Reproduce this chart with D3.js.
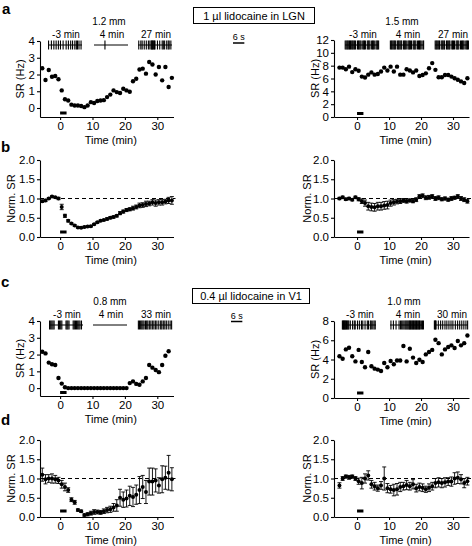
<!DOCTYPE html>
<html><head><meta charset="utf-8">
<script src="https://cdn.jsdelivr.net/npm/d3@7/dist/d3.min.js"></script>
<style>body{margin:0;background:#fff}svg text{font-family:"Liberation Sans",Arial,Helvetica,sans-serif;fill:#000}</style>
</head><body><svg id="chart" width="472" height="546"></svg>
<script>
// ---------- data ----------
const times41 = [-5.5,-4.5,-3.5,-2.5,-1.5,-0.5,0.5,1.5,2.5,3.5,4.5,5.5,6.5,7.5,8.5,9.5,10.5,11.5,12.5,13.5,14.5,15.5,16.5,17.5,18.5,19.5,20.5,21.5,22.5,23.5,24.5,25.5,26.5,27.5,28.5,29.5,30.5,31.5,32.5,33.5,34.5];
const times40 = [-5.5,-4.5,-3.5,-2.5,-1.5,-0.5,0.5,1.5,2.5,3.5,4.5,5.5,6.5,7.5,8.5,9.5,10.5,11.5,12.5,13.5,14.5,15.5,16.5,17.5,18.5,19.5,20.5,21.5,22.5,23.5,24.5,25.5,26.5,27.5,28.5,29.5,30.5,31.5,32.5,33.5];
const xTicks = [0,10,20,30];
const stimPeriod = [0,2];

// a: example SR (Hz), LGN injection
const srLGN12 = [2.37,1.67,2.27,1.87,1.91,1.72,1.05,0.52,0.45,0.2,0.15,0.15,0.12,0.05,0.15,0.35,0.3,0.42,0.45,0.47,0.65,0.8,1.05,0.95,0.9,1.15,1.05,0.97,1.6,1.75,2.3,2.35,2.05,2.75,2.6,2.0,2.45,1.65,2.45,1.25,1.8];
const srLGN15 = [7.7,7.7,7.45,7.85,7.0,7.45,7.2,6.3,6.15,6.6,6.95,6.6,6.7,7.1,7.7,7.25,7.85,7.1,7.85,6.6,6.6,7.45,7.25,6.95,7.25,6.4,6.55,6.8,7.6,8.4,7.35,6.2,6.2,6.55,6.55,6.3,6.05,5.8,5.55,5.3,6.05];
// b: population normalized SR, LGN injection
const normLGNnear = [0.93,0.95,1.0,1.05,1.03,1.0,0.78,0.55,0.42,0.35,0.3,0.25,0.24,0.26,0.27,0.28,0.33,0.38,0.42,0.44,0.47,0.5,0.52,0.55,0.62,0.66,0.7,0.72,0.75,0.78,0.82,0.83,0.86,0.87,0.9,0.88,0.9,0.9,0.92,0.95,0.95];
const normLGNnearErr = [0.03,0.03,0.02,0.02,0.02,0.03,0.07,0.04,0.03,0.02,0.02,0.02,0.02,0.02,0.02,0.02,0.02,0.02,0.02,0.02,0.03,0.03,0.03,0.03,0.04,0.04,0.04,0.04,0.05,0.05,0.06,0.06,0.07,0.06,0.07,0.08,0.07,0.07,0.06,0.08,0.1];
const normLGNfar = [1.0,1.03,0.98,1.0,0.97,1.03,0.98,0.93,0.88,0.8,0.78,0.77,0.8,0.8,0.82,0.83,0.88,0.9,0.92,0.93,0.95,0.93,0.95,0.93,0.97,1.05,1.07,1.02,1.03,1.05,1.0,1.02,0.98,1.0,0.97,1.0,1.02,1.05,1.0,0.97,0.93];
const normLGNfarErr = [0.03,0.03,0.03,0.03,0.03,0.03,0.04,0.06,0.08,0.1,0.1,0.1,0.1,0.1,0.1,0.1,0.08,0.07,0.06,0.06,0.05,0.05,0.04,0.04,0.05,0.05,0.05,0.05,0.05,0.05,0.05,0.05,0.04,0.04,0.04,0.05,0.04,0.05,0.05,0.05,0.05];
// c: example SR (Hz), V1 injection
const srV108 = [2.17,2.07,1.52,1.42,1.38,0.6,0.27,0.05,0,0,0,0,0,0,0,0,0,0,0,0,0,0,0,0,0,0,0,0.3,0.4,0.25,0.2,0.4,0.6,1.38,1.22,1.08,0.95,1.38,1.93,2.2];
const srV110 = [4.33,4.08,5.05,5.22,4.33,3.8,5.0,3.74,3.2,4.78,3.3,3.05,2.95,2.8,3.63,3.2,3.84,3.5,3.9,3.9,5.4,3.8,5.12,4.2,3.63,3.98,3.74,4.53,4.78,5.0,6.05,5.7,4.53,5.05,5.3,5.47,5.2,5.92,5.47,5.7,6.5];
// d: population normalized SR, V1 injection
const normV1near = [1.1,0.98,1.0,1.0,0.98,0.95,0.85,0.78,0.7,0.45,0.38,0.18,0.15,0.05,0.07,0.1,0.13,0.13,0.12,0.15,0.18,0.2,0.25,0.3,0.5,0.45,0.48,0.55,0.52,0.58,0.7,0.78,0.65,0.92,0.92,0.95,0.82,0.98,1.02,1.15,0.98];
const normV1nearErr = [0.17,0.12,0.1,0.12,0.1,0.08,0.1,0.1,0.06,0.05,0.05,0.03,0.03,0.03,0.04,0.05,0.06,0.05,0.05,0.06,0.07,0.08,0.1,0.15,0.22,0.2,0.22,0.25,0.25,0.25,0.35,0.3,0.3,0.35,0.35,0.3,0.2,0.35,0.3,0.45,0.3];
const normV1far = [0.82,1.0,1.05,1.03,1.05,1.0,0.93,0.88,1.0,1.08,0.85,0.8,0.75,0.82,1.0,0.75,0.72,0.7,0.72,0.78,0.8,0.83,0.8,0.85,0.75,0.78,0.76,0.72,0.76,0.8,0.88,0.9,0.88,0.9,0.92,0.92,1.0,1.02,0.98,0.88,0.93];
const normV1farErr = [0.07,0.05,0.04,0.05,0.04,0.05,0.08,0.15,0.12,0.12,0.1,0.1,0.08,0.1,0.3,0.12,0.1,0.15,0.15,0.12,0.1,0.12,0.1,0.12,0.1,0.1,0.1,0.08,0.1,0.1,0.12,0.12,0.12,0.12,0.1,0.12,0.15,0.15,0.12,0.12,0.1];

// example spike rasters (spike times in s within an 18 s window)
const rasterWindow = [0,18];
const spkA12 = [
  [0.3,1.8,3.1,4.3,5.5,6.6,8.0,9.6,10.8,12.0,13.0,14.2,15.0,15.6,16.4,17.5],
  [5.8],
  [0.4,1.5,2.2,3.3,4.4,5.5,6.3,7.0,7.3,7.6,7.9,8.3,8.7,9.0,10.3,11.5,12.8,13.4,14.1,15.2,16.0,16.5,17.4]];
const spkA15 = [
  [0.1,0.6,1.1,1.5,2.0,2.4,2.9,3.3,3.8,4.2,4.7,5.1,5.6,6.6,7.1,7.5,8.0,8.5,9.4,9.9,10.3,10.8,11.8,12.3,12.7,13.2,14.1,14.6,15.0,15.5,16.4,16.9,17.3,17.8],
  [0.2,0.7,1.1,1.6,2.1,2.5,3.0,3.9,4.4,4.8,5.3,5.8,6.2,7.2,7.6,8.1,8.6,9.5,10.0,10.4,10.9,11.4,12.3,12.8,13.2,13.7,14.6,15.1,15.6,16.0,16.5,17.4,17.8],
  [0.1,0.6,1.0,1.5,2.0,2.4,3.3,3.8,4.2,4.7,5.1,6.1,6.5,7.0,7.5,7.9,8.9,9.3,9.8,10.3,11.2,11.7,12.1,12.6,13.5,14.0,14.5,14.9,15.4,16.3,16.8,17.2,17.7]];
const spkC08 = [
  [0.3,0.9,1.5,2.1,2.7,5.0,5.6,6.2,6.8,9.0,9.5,10.0,10.6,12.8,13.4,14.0,14.6,15.2,15.8,16.4,17.2],
  [],
  [0.2,0.8,1.4,2.0,2.6,3.2,4.0,4.6,5.2,6.0,6.8,7.6,8.4,9.2,10.0,11.0,12.0,12.6,13.4,14.2,15.0,16.0,17.0,17.8]];
const spkC10 = [
  [0.2,0.5,0.8,1.1,1.4,1.7,2.0,2.4,2.8,3.2,3.6,4.4,5.6,6.5,7.0,8.2,9.2,10.3,11.0,12.2,13.4,14.0,15.0,15.5,16.3,17.0,17.6],
  [0.5,1.8,3.2,4.8,5.6,6.2,6.8,7.4,8.0,8.5,9.0,9.5,10.0,10.4,10.8,11.2,11.6,12.0,12.4,12.8,13.2,13.6,14.0,14.4,14.8,15.2,15.6,16.0,16.6,17.2,17.7],
  [0.2,0.5,0.8,1.1,2.3,3.5,4.6,5.8,6.8,7.9,9.0,10.0,11.3,12.5,13.6,14.7,15.8,16.9,17.8]];
const segLabelsA12 = ["-3 min","4 min","27 min"];
const segLabelsA15 = ["-3 min","4 min","27 min"];
const segLabelsC08 = ["-3 min","4 min","33 min"];
const segLabelsC10 = ["-3 min","4 min","30 min"];

// ---------- drawing ----------
const svg = d3.select("#chart");
const BLACK = "#000";

function drawPanel(o){
  const x = d3.scaleLinear().domain(o.xDom).range(o.xRange);
  const y = d3.scaleLinear().domain(o.yDom).range(o.yRange);
  const g = svg.append("g");
  const axisY = o.yRange[0];
  const gx = g.append("g").attr("transform",`translate(0,${axisY})`)
    .call(d3.axisBottom(x).tickValues(xTicks).tickSize(3).tickSizeOuter(0).tickPadding(2));
  const gy = g.append("g").attr("transform",`translate(${o.xRange[0]},0)`)
    .call(d3.axisLeft(y).tickValues(o.yTicks).tickFormat(d3.format(o.fmt)).tickSize(3).tickSizeOuter(0).tickPadding(2));
  [gx,gy].forEach(a=>{
    a.selectAll("text").attr("font-size",11.5).attr("fill",BLACK)
      .style("font-family",'"Liberation Sans",Arial,sans-serif');
    a.selectAll("path,line").attr("stroke",BLACK).attr("stroke-width",1.1);
  });
  g.append("text").attr("x",(o.xRange[0]+o.xRange[1])/2+4).attr("y",axisY+27)
    .attr("text-anchor","middle").attr("font-size",11).text("Time (min)");
  g.append("text").attr("transform",`translate(${o.yLabX},${(o.yRange[0]+o.yRange[1])/2}) rotate(-90)`)
    .attr("text-anchor","middle").attr("font-size",11).text(o.yLabel);
  if(o.dash){
    g.append("line").attr("x1",o.xRange[0]).attr("x2",o.xRange[1]+2)
      .attr("y1",y(1)).attr("y2",y(1)).attr("stroke",BLACK).attr("stroke-width",1)
      .attr("stroke-dasharray","4,3");
  }
  g.append("line").attr("x1",x(stimPeriod[0])).attr("x2",x(stimPeriod[1]))
    .attr("y1",axisY-o.stimOff).attr("y2",axisY-o.stimOff)
    .attr("stroke",BLACK).attr("stroke-width",3);
  const data = o.vals.map((v,i)=>({t:o.times[i],v,e:o.errs?o.errs[i]:0}));
  if(o.errs){
    const eb = g.append("g").attr("stroke",BLACK).attr("stroke-width",0.9);
    data.forEach(d=>{
      eb.append("line").attr("x1",x(d.t)).attr("x2",x(d.t)).attr("y1",y(d.v-d.e)).attr("y2",y(d.v+d.e));
      eb.append("line").attr("x1",x(d.t)-2).attr("x2",x(d.t)+2).attr("y1",y(d.v-d.e)).attr("y2",y(d.v-d.e));
      eb.append("line").attr("x1",x(d.t)-2).attr("x2",x(d.t)+2).attr("y1",y(d.v+d.e)).attr("y2",y(d.v+d.e));
    });
  }
  g.append("g").selectAll("circle").data(data).join("circle")
    .attr("cx",d=>x(d.t)).attr("cy",d=>y(d.v)).attr("r",o.r).attr("fill",BLACK);
}

function drawRaster(starts, cy, spikes, labels, depth, depthX, depthY){
  const w = 34;
  spikes.forEach((sp,k)=>{
    const rs = d3.scaleLinear().domain(rasterWindow).range([starts[k],starts[k]+w]);
    svg.append("line").attr("x1",rs(rasterWindow[0])).attr("x2",rs(rasterWindow[1]))
      .attr("y1",cy).attr("y2",cy).attr("stroke",BLACK).attr("stroke-width",1);
    svg.append("g").selectAll("line").data(sp).join("line")
      .attr("x1",d=>rs(d)).attr("x2",d=>rs(d)).attr("y1",cy-4.5).attr("y2",cy+4.5)
      .attr("stroke",BLACK).attr("stroke-width",1.1);
    svg.append("text").attr("x",starts[k]+w/2+1).attr("y",cy-7).attr("text-anchor","middle")
      .attr("font-size",10).text(labels[k]);
  });
  svg.append("text").attr("x",depthX).attr("y",depthY).attr("text-anchor","middle")
    .attr("font-size",10).text(depth);
}

function scaleBar(x0, yBar, yText){
  const rs = d3.scaleLinear().domain(rasterWindow).range([0,34]);
  svg.append("line").attr("x1",x0).attr("x2",x0+rs(6)).attr("y1",yBar).attr("y2",yBar)
    .attr("stroke",BLACK).attr("stroke-width",1.5);
  svg.append("text").attr("x",x0+rs(6)/2).attr("y",yText).attr("text-anchor","middle")
    .attr("font-size",9).text("6 s");
}

function box(x0,y0,w,h,label){
  svg.append("rect").attr("x",x0).attr("y",y0).attr("width",w).attr("height",h)
    .attr("fill","none").attr("stroke",BLACK).attr("stroke-width",1);
  svg.append("text").attr("x",x0+w/2).attr("y",y0+h-4).attr("text-anchor","middle")
    .attr("font-size",11).text(label);
}

function letter(t,x0,y0){
  svg.append("text").attr("x",x0).attr("y",y0).attr("font-size",15).attr("font-weight","bold").text(t);
}

const xL = {xDom:[-6.2,35], xRange:[40,173.5]};
const xR = {xDom:[-7.2,35], xRange:[334,469]};

// panel a
drawPanel({...xL, yDom:[-0.537,4], yRange:[117,41], yTicks:[0,1,2,3,4], fmt:"d",
  yLabel:"SR (Hz)", yLabX:24, stimOff:4, times:times41, vals:srLGN12, r:2.2});
drawPanel({...xR, yDom:[0,12], yRange:[117,40], yTicks:[0,2,4,6,8,10,12], fmt:"d",
  yLabel:"SR (Hz)", yLabX:319, stimOff:3.5, times:times41, vals:srLGN15, r:2.2});
// panel b
drawPanel({...xL, yDom:[0,2], yRange:[237,160], yTicks:[0,0.5,1,1.5,2], fmt:".1f",
  yLabel:"Norm. SR", yLabX:15, stimOff:5, times:times41, vals:normLGNnear, errs:normLGNnearErr, r:2, dash:true});
drawPanel({...xR, yDom:[0,2], yRange:[237,160], yTicks:[0,0.5,1,1.5,2], fmt:".1f",
  yLabel:"Norm. SR", yLabX:311, stimOff:5, times:times41, vals:normLGNfar, errs:normLGNfarErr, r:2, dash:true});
// panel c
drawPanel({...xL, yDom:[-0.47,4], yRange:[396,321], yTicks:[0,1,2,3,4], fmt:"d",
  yLabel:"SR (Hz)", yLabX:24, stimOff:3.5, times:times40, vals:srV108, r:2.2});
drawPanel({...xR, yDom:[0,8], yRange:[398,321], yTicks:[0,2,4,6,8], fmt:"d",
  yLabel:"SR (Hz)", yLabX:319, stimOff:5, times:times41, vals:srV110, r:2.2});
// panel d
drawPanel({...xL, yDom:[0,2], yRange:[517,440], yTicks:[0,0.5,1,1.5,2], fmt:".1f",
  yLabel:"Norm. SR", yLabX:15, stimOff:6, times:times41, vals:normV1near, errs:normV1nearErr, r:2, dash:true});
drawPanel({...xR, yDom:[0,2], yRange:[517,440], yTicks:[0,0.5,1,1.5,2], fmt:".1f",
  yLabel:"Norm. SR", yLabX:311, stimOff:6, times:times41, vals:normV1far, errs:normV1farErr, r:2, dash:true});

// rasters
drawRaster([48,94,138], 45, spkA12, segLabelsA12, "1.2 mm", 109, 25);
drawRaster([345,390,435], 45, spkA15, segLabelsA15, "1.5 mm", 402, 25);
drawRaster([49,93,138], 325, spkC08, segLabelsC08, "0.8 mm", 110, 305);
drawRaster([342,390,434], 325, spkC10, segLabelsC10, "1.0 mm", 404, 305);

scaleBar(233, 43, 40);
scaleBar(231, 321.5, 319);
box(193.5, 7.5, 121, 16, "1 µl lidocaine in LGN");
box(192.5, 288.5, 117, 15, "0.4 µl lidocaine in V1");

letter("a",2,14); letter("b",1,152); letter("c",1,287); letter("d",1,425);
</script></body></html>
